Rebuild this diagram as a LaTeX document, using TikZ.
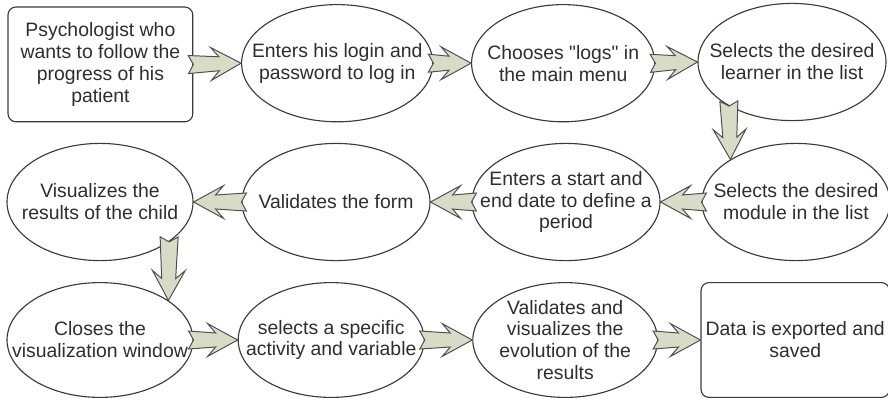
\documentclass[tikz,border=0pt]{standalone}
\usepackage{fontspec}
\setmainfont{Liberation Sans}
\usetikzlibrary{positioning, calc, shapes.geometric}
\definecolor{ink}{HTML}{2E2E2E}
\definecolor{edge}{HTML}{3A3A3A}
\definecolor{khaki}{HTML}{D8DCC7}
\definecolor{khakiline}{HTML}{4F4F4F}
\tikzset{
  font=\fontsize{13.8}{15.6}\selectfont,
  %
  card/.style={
    draw=edge, line width=0.8pt, fill=white, rounded corners=0.2cm,
    align=center, text=ink, minimum width=4.62cm, minimum height=2.87cm,
  },
  oval/.style={
    ellipse, draw=edge, line width=0.8pt, fill=white, align=center, text=ink,
    inner xsep=-1.5cm, inner ysep=-0.6cm,
    minimum width=4.7cm, minimum height=2.93cm,
  },
  %
  % notched block arrow, tail notch at the start, barbed head at the target
  blockarrow/.style={
    draw=khakiline, fill=khaki, line width=0.7pt, line join=miter,
    to path={
      ($(\tikztostart)!-0.125cm!(\tikztotarget)!0.225cm!90:(\tikztotarget)$)
      -- ($(\tikztotarget)!0.55cm!(\tikztostart)!0.175cm!90:(\tikztotarget)$)
      -- ($(\tikztotarget)!0.75cm!(\tikztostart)!0.41cm!90:(\tikztotarget)$)
      -- (\tikztotarget)
      -- ($(\tikztotarget)!0.75cm!(\tikztostart)!0.41cm!-90:(\tikztotarget)$)
      -- ($(\tikztotarget)!0.55cm!(\tikztostart)!0.175cm!-90:(\tikztotarget)$)
      -- ($(\tikztostart)!-0.125cm!(\tikztotarget)!0.225cm!-90:(\tikztotarget)$)
      -- (\tikztostart)
      -- cycle
    }
  },
}

\begin{document}
\begin{tikzpicture}[x=1cm, y=1cm]

  \useasboundingbox (0,0) rectangle (22.2,-9.975);

  % first row, left to right
  \node[card]  (psy)     at (2.51,-1.61) {Psychologist who\\wants to follow the\\progress of his\\patient};
  \node[oval, minimum width=4.78cm] (login)   at (8.43,-1.58) {Enters his login and\\password to log in};
  \node[oval, minimum width=4.58cm] (logs)    at (14.08,-1.58) {Chooses \textquotedbl logs\textquotedbl{} in\\the main menu};
  \node[oval]  (learner) at (19.8,-1.55) {Selects the desired\\learner in the list};

  % second row, right to left
  \node[oval]  (module)  at (19.9,-5.05) {Selects the desired\\module in the list};
  \node[oval]  (period)  at (14.15,-5.05) {Enters a start and\\end date to define a\\period};
  \node[oval]  (form)    at (8.4,-5.05) {Validates the form};
  \node[oval, minimum width=4.65cm] (child)   at (2.5,-5.05) {Visualizes the\\results of the child};

  % third row, left to right
  \node[oval, minimum width=4.65cm, minimum height=2.87cm] (closes)    at (2.5,-8.5) {Closes the\\visualization window};
  \node[oval, minimum width=4.65cm, minimum height=2.87cm] (activity)  at (8.28,-8.5) {selects a specific\\activity and variable};
  \node[oval, minimum width=4.62cm, minimum height=2.87cm] (evolution) at (14.13,-8.5) {Validates and\\visualizes the\\evolution of the\\results};
  \node[card]  (export)  at (19.88,-8.5) {Data is exported and\\saved};

  \foreach \a/\b in {psy.east/login.west, login.east/logs.west, logs.east/learner.west,
                     learner.215/module.147,
                     module.west/period.east, period.west/form.east, form.west/child.east,
                     child.330/closes.30,
                     closes.east/activity.west, activity.east/evolution.west,
                     evolution.east/export.west}
    \draw[blockarrow] (\a) to (\b);

\end{tikzpicture}
\end{document}
